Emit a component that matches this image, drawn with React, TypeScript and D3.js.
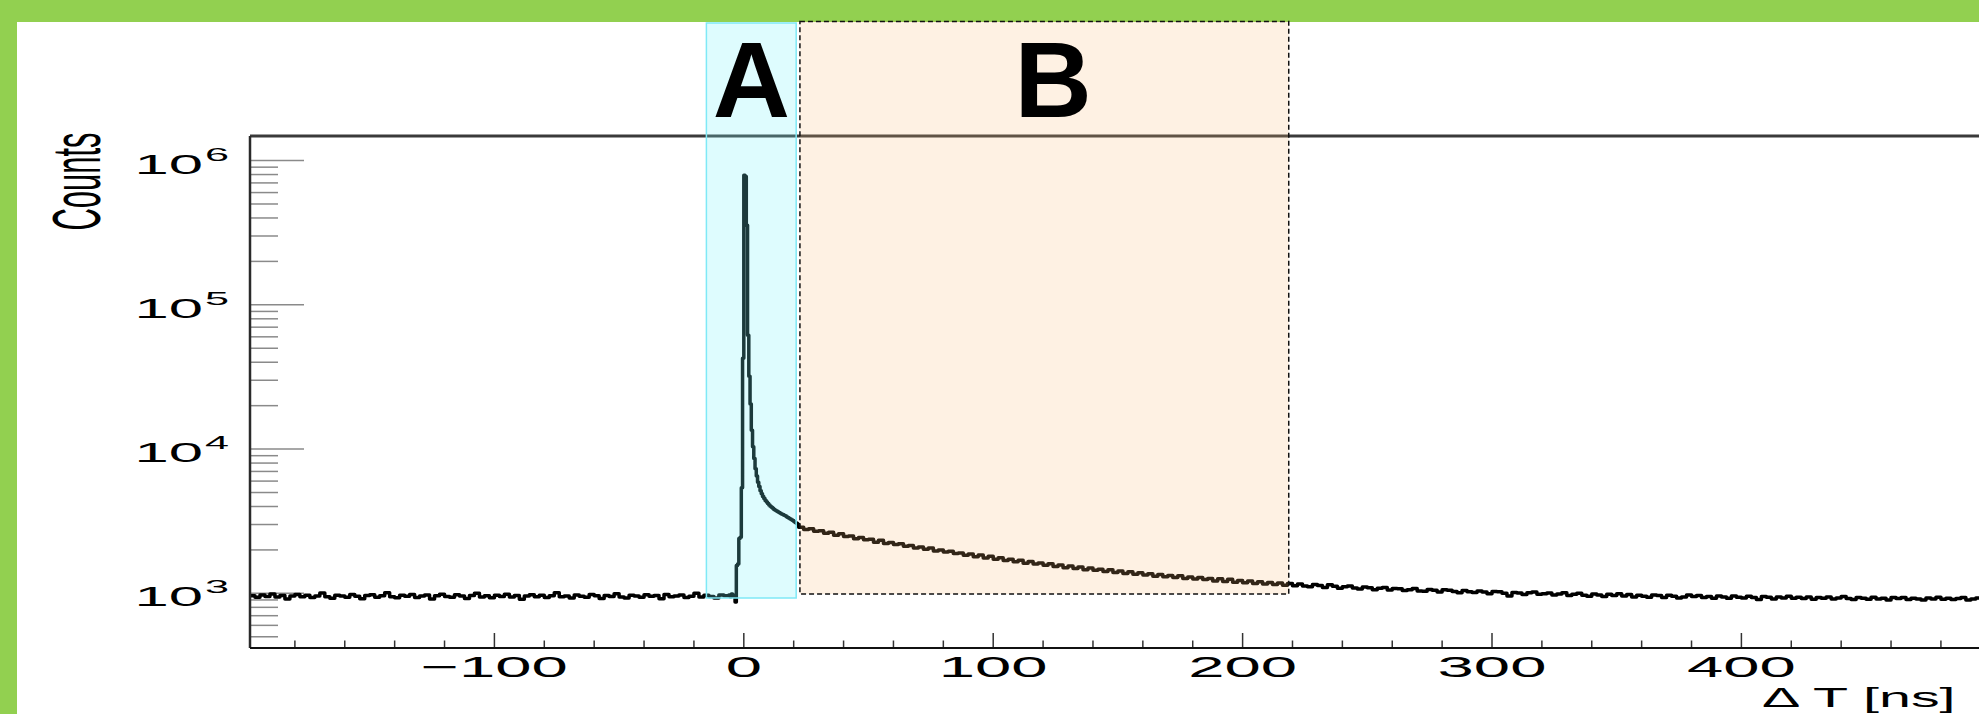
import React from 'react'
import * as d3 from 'd3'

const W = 1979
const H = 714

// histogram: three runs of bins, each with its own start and bin width (ns)
const preStart = -198
const preWidth = 2
const preCounts = [
  962, 938, 975, 951, 990, 944, 968, 912, 957, 981,
  946, 972, 935, 960, 1005, 949, 925, 970, 958, 941,
  983, 955, 918, 966, 978, 940, 962, 1010, 948, 931,
  969, 954, 980, 937, 959, 973, 915, 964, 985, 950,
  939, 976, 957, 921, 968, 1002, 945, 961, 934, 972,
  952, 986, 943, 966, 910, 959, 979, 947, 970, 936,
  963, 1008, 949, 958, 930, 974, 955, 940, 981, 962,
  920, 967, 951, 995, 944, 927, 970, 958, 939, 976,
  953, 965, 916, 982, 948, 960, 973, 937, 956, 1000,
  943, 969, 952, 928, 975, 961
]

const peakStart = -6
const peakWidth = 0.5
const peakCounts = [
  975, 948, 990, 958, 972, 870, 1560, 1600, 2400, 2450,
  5400, 42700, 790000, 775000, 356000, 61500, 32000, 20500, 13500, 10400,
  8600, 7300, 6500, 5900, 5500, 5150, 4900, 4700, 4550, 4400,
  4300, 4200, 4100, 4020, 3950, 3890, 3820, 3770, 3720, 3680,
  3630, 3590, 3555, 3520, 3480, 3450, 3400, 3360, 3320, 3280,
  3240, 3200, 3150, 3100, 3060, 3010
]

const tailStart = 22
const tailWidth = 2
const tailCounts = [
  2870, 2770, 2805, 2690, 2720, 2610, 2655, 2530, 2590, 2480,
  2500, 2395, 2440, 2350, 2370, 2265, 2330, 2220, 2250, 2185,
  2205, 2120, 2145, 2060, 2095, 2020, 2065, 1965, 1995, 1935,
  1955, 1890, 1905, 1840, 1875, 1795, 1845, 1760, 1805, 1725,
  1765, 1690, 1725, 1655, 1695, 1615, 1665, 1595, 1625, 1565,
  1605, 1535, 1575, 1505, 1545, 1485, 1525, 1455, 1500, 1445,
  1470, 1415, 1455, 1395, 1430, 1375, 1410, 1355, 1390, 1340,
  1370, 1315, 1350, 1305, 1330, 1290, 1325, 1270, 1300, 1255,
  1290, 1245, 1265, 1220, 1260, 1210, 1250, 1195, 1230, 1185,
  1220, 1170, 1205, 1160, 1190, 1150, 1180, 1140, 1170, 1130,
  1160, 1125, 1110, 1150, 1135, 1100, 1145, 1120, 1085, 1110,
  1125, 1090, 1070, 1105, 1095, 1060, 1085, 1100, 1055, 1080,
  1075, 1045, 1060, 1080, 1040, 1035, 1065, 1050, 1020, 1060,
  1050, 1030, 1010, 1045, 1025, 1015, 1040, 1020, 995, 1030,
  1025, 1000, 960, 1015, 1005, 980, 1010, 1020, 985, 995,
  1005, 975, 990, 1010, 965, 985, 1000, 970, 955, 990,
  975, 950, 985, 965, 995, 960, 980, 945, 970, 955,
  940, 975, 965, 935, 970, 955, 930, 945, 975, 950,
  965, 935, 950, 925, 960, 945, 925, 960, 940, 930,
  955, 935, 905, 950, 940, 915, 945, 930, 955, 925,
  940, 920, 945, 910, 935, 925, 945, 915, 930, 950,
  920, 905, 935, 925, 910, 940, 915, 925, 900, 935,
  920, 935, 905, 925, 915, 900, 930, 915, 940, 910,
  925, 905, 920, 935, 900, 915, 930, 905, 920, 925
]

const xLabelTicks = [-100, 0, 100, 200, 300, 400]
const yLabelExponents = [3, 4, 5, 6]
const regionA = [-15, 21]
const regionB = [22.5, 218.5]
const regionLabels = ['A', 'B']
const regionLabelAt = [3, 124]

const font = 'Liberation Sans, Arial, Helvetica, sans-serif'

function toBins(start: number, width: number, counts: number[]) {
  return counts.map((n, i) => ({ t: start + i * width, n }))
}

export default function App() {
  const x = d3.scaleLinear().domain([-198, 500]).range([250, 1990.8])
  const y = d3.scaleLog().domain([418, 1.48e6]).range([648, 136])

  const bins = [
    ...toBins(preStart, preWidth, preCounts),
    ...toBins(peakStart, peakWidth, peakCounts),
    ...toBins(tailStart, tailWidth, tailCounts)
  ]
  const lastBin = bins[bins.length - 1]
  const pts = [...bins, { t: lastBin.t + tailWidth, n: lastBin.n }]

  const line = d3.line<{ t: number; n: number }>()
    .x(d => x(d.t))
    .y(d => y(d.n))
    .curve(d3.curveStepAfter)

  const xTicks = d3.range(-180, 501, 20)
  const yTicks: { v: number; major: boolean }[] = []
  for (let e = 2; e <= 6; e++) {
    for (let k = 1; k <= 9; k++) {
      const v = k * Math.pow(10, e)
      if (v >= y.domain()[0] && v <= y.domain()[1]) yTicks.push({ v, major: k === 1 })
    }
  }

  const [x0] = x.range()
  const [yb, yt] = y.range()

  return (
    <svg width={W} height={H} style={{ position: 'absolute', left: 0, top: 0 }}>
      <defs>
        <clipPath id="plot">
          <rect x={x0} y={yt} width={W - x0} height={yb - yt} />
        </clipPath>
      </defs>

      <rect x={0} y={0} width={W} height={22} fill="#92d050" />
      <rect x={0} y={0} width={17} height={H} fill="#92d050" />

      {/* y ticks */}
      {yTicks.map((d, i) => (
        <line key={'yt' + i} x1={x0} x2={x0 + (d.major ? 54 : 28)} y1={y(d.v)} y2={y(d.v)}
          stroke="#8a8a8a" strokeWidth={1.5} />
      ))}
      {/* x ticks */}
      {xTicks.map(t => (
        <line key={'xt' + t} x1={x(t)} x2={x(t)} y1={yb} y2={yb - (t % 100 === 0 ? 15 : 7.5)}
          stroke="#333" strokeWidth={1.5} />
      ))}

      <path d={line(pts) || ''} fill="none" stroke="#000" strokeWidth={3.5}
        strokeLinejoin="round" clipPath="url(#plot)" />

      <line x1={x0} x2={W} y1={yt} y2={yt} stroke="#3a3a3a" strokeWidth={3} />
      <line x1={x0} x2={x0} y1={yt} y2={yb} stroke="#2a2a2a" strokeWidth={2.5} />
      <line x1={x0} x2={W} y1={yb} y2={yb} stroke="#111" strokeWidth={2} />

      {yLabelExponents.map(e => {
        const ty = y(Math.pow(10, e))
        return (
          <g key={'yl' + e} fontFamily={font} fill="#000">
            <g transform={`translate(203,${ty + 13}) scale(2.2,1)`}>
              <text textAnchor="end" fontSize={28}>10</text>
            </g>
            <g transform={`translate(205,${ty}) scale(2.4,1)`}>
              <text fontSize={18}>{e}</text>
            </g>
          </g>
        )
      })}

      {xLabelTicks.map(t => (
        <g key={'xl' + t} transform={`translate(${x(t)},677) scale(2.25,1)`}>
          <text textAnchor="middle" fontSize={29} fontFamily={font}>
            {t < 0 ? '\u2212' + Math.abs(t) : String(t)}
          </text>
        </g>
      ))}

      <g transform="translate(1762,707) scale(2.05,1)">
        <text fontSize={28} fontFamily={font}>Δ T [ns]</text>
      </g>
      <g transform="translate(100,181.5) scale(2.2,1) rotate(-90)">
        <text textAnchor="middle" fontSize={31} fontFamily={font}>Counts</text>
      </g>

      {/* shaded windows */}
      <rect x={x(regionA[0])} y={23} width={x(regionA[1]) - x(regionA[0])} height={598 - 23}
        fill="rgb(117,243,251)" fillOpacity={0.24} stroke="#7fe9f6" strokeWidth={1.5} />
      <rect x={x(regionB[0])} y={21.5} width={x(regionB[1]) - x(regionB[0])} height={594 - 21.5}
        fill="rgb(250,185,115)" fillOpacity={0.2} stroke="#111" strokeWidth={1.5} strokeDasharray="5,3" />

      {regionLabels.map((s, i) => (
        <text key={s} x={x(regionLabelAt[i])} y={117} textAnchor="middle" fontSize={107}
          fontWeight="bold" fontFamily={font}>{s}</text>
      ))}
    </svg>
  )
}
